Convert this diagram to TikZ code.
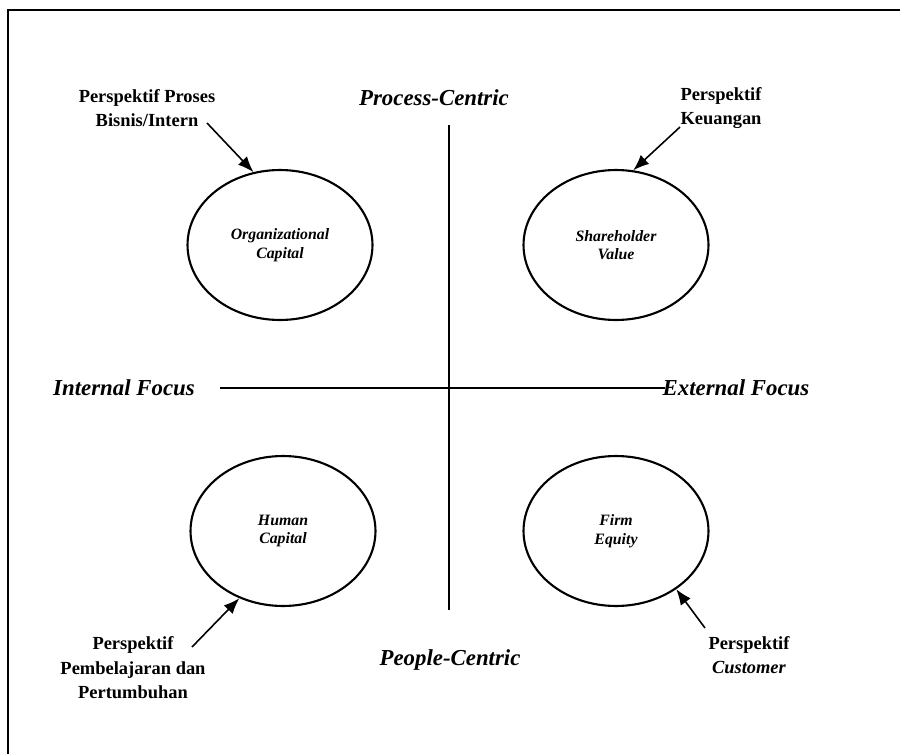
\documentclass[tikz,border=0pt]{standalone}
\usepackage{fontspec}
\setmainfont{Liberation Serif}
\usetikzlibrary{shapes.geometric,arrows.meta}
\begin{document}
\begin{tikzpicture}[x=0.02cm,y=-0.02cm,
  capital/.style={draw,line width=1.2pt,ellipse,minimum width=3.7cm,minimum height=3cm,inner sep=0pt,
    font=\fontsize{9}{10.5}\selectfont\bfseries\itshape,align=center},
  axislabel/.style={font=\fontsize{13}{15}\selectfont\bfseries\itshape},
  persp/.style={font=\fontsize{10.5}{14}\selectfont\bfseries,align=center},
  pointer/.style={line width=0.9pt,-{Latex[length=9pt,width=7pt]}},
  axis/.style={line width=0.9pt}]
\useasboundingbox (0,0) rectangle (900,754);
% frame
\draw[line width=1.4pt] (8,754) -- (8,10) -- (900,10);
% axes
\coordinate (vtop) at (449,125);
\coordinate (vbot) at (449,610);
\coordinate (hl) at (220,388);
\coordinate (hr) at (665,388);
\draw[axis] (vtop) -- (vbot);
\draw[axis] (hl) -- (hr);
\node[axislabel] (pc) at (434,98) {Process-Centric};
\node[axislabel] (pp) at (450,660) {People-Centric};
\node[axislabel] (inf) at (124,388) {Internal Focus};
\node[axislabel] (exf) at (736,388) {External Focus};
% ellipses
\node[capital] (org) at (280,245) {Organizational\\Capital};
\node[capital] (sv) at (616,245) {Shareholder\\Value};
\node[capital] (hc) at (283,531) {Human\\Capital};
\node[capital] (fe) at (616,531) {Firm\\Equity};
% perspective labels
\node[persp] (p1) at (147,108) {Perspektif Proses\\Bisnis/Intern};
\node[persp] (p2) at (721,108) {Perspektif\\Keuangan};
\node[persp] (p3) at (133,668) {Perspektif\\Pembelajaran dan\\Pertumbuhan};
\node[persp] (p4) at (749,655) {Perspektif\\\textit{Customer}};
\coordinate (a1) at (207,123);
\coordinate (a2) at (680,127);
\coordinate (a3) at (192,647);
\coordinate (a4) at (705,628);
\draw[pointer] (a1) -- (org.110);
\draw[pointer] (a2) -- (sv.77);
\draw[pointer] (a3) -- (hc.-123);
\draw[pointer] (a4) -- (fe.-44);
\end{tikzpicture}
\end{document}
